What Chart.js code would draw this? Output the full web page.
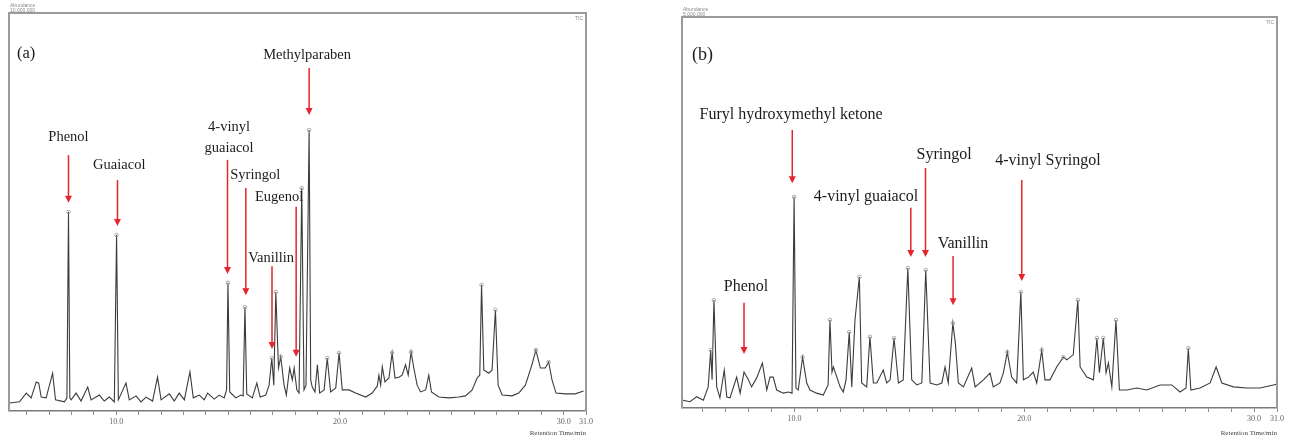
<!DOCTYPE html>
<html>
<head>
<meta charset="utf-8">
<script src="https://cdn.jsdelivr.net/npm/chart.js@4.4.1/dist/chart.umd.min.js"></script>
<style>
  body { margin: 0; background: #fff; width: 1292px; height: 437px; overflow: hidden; position: relative; }
  canvas { position: absolute; top: 0; }
</style>
</head>
<body>
<canvas id="chartA" width="605" height="437" style="left:0"></canvas>
<canvas id="chartB" width="622" height="437" style="left:670px"></canvas>
<script>
// retention time (min) and relative signal
const timeA = [5.22, 5.67, 5.97, 6.19, 6.42, 6.53, 6.64, 6.86, 7.15, 7.28,
  7.68, 7.79, 7.86, 7.92, 7.98, 8.20, 8.42, 8.72, 8.87, 9.24,
  9.46, 9.69, 9.91, 10.01, 10.09, 10.43, 10.58, 10.88, 11.10, 11.33,
  11.62, 11.84, 12.00, 12.37, 12.59, 12.81, 13.04, 13.29, 13.44, 13.71,
  13.93, 14.08, 14.38, 14.60, 14.82, 14.93, 14.99, 15.07, 15.34, 15.57,
  15.67, 15.75, 15.83, 16.08, 16.28, 16.43, 16.68, 16.83, 16.95, 17.04,
  17.13, 17.25, 17.35, 17.50, 17.60, 17.75, 17.87, 17.95, 18.07, 18.17,
  18.29, 18.39, 18.48, 18.62, 18.69, 18.76, 18.88, 18.99, 19.09, 19.29,
  19.43, 19.58, 19.81, 19.96, 20.10, 20.40, 20.70, 21.15, 21.44, 21.67,
  21.74, 21.82, 21.89, 22.01, 22.19, 22.33, 22.46, 22.63, 22.78, 22.93,
  23.05, 23.18, 23.30, 23.45, 23.60, 23.83, 23.97, 24.09, 24.42, 24.87,
  25.31, 25.61, 25.91, 26.13, 26.25, 26.33, 26.43, 26.65, 26.80, 26.95,
  27.07, 27.25, 27.69, 27.99, 28.29, 28.58, 28.76, 28.96, 29.18, 29.33,
  29.48, 29.66, 30.08, 30.52, 30.89];
const signalA = [2.0, 2.3, 4.5, 3.3, 7.3, 7.0, 3.5, 3.3, 9.5, 2.8,
  2.3, 3.3, 50.0, 3.3, 2.8, 4.5, 2.5, 6.0, 2.8, 4.0,
  2.5, 3.5, 2.3, 44.2, 2.8, 7.0, 2.8, 3.8, 2.3, 3.5,
  2.5, 8.5, 2.8, 4.3, 2.5, 4.5, 2.8, 9.8, 3.3, 4.0,
  2.8, 4.5, 3.0, 4.0, 3.3, 5.3, 32.2, 4.8, 3.3, 4.0,
  3.8, 26.1, 4.3, 3.3, 7.0, 3.5, 4.0, 6.5, 13.3, 6.5,
  29.9, 10.8, 13.6, 6.5, 4.0, 10.8, 7.8, 10.8, 5.3, 4.5,
  56.0, 5.3, 6.5, 70.6, 7.8, 6.0, 4.8, 11.6, 4.5, 5.3,
  13.3, 4.8, 5.8, 14.6, 5.3, 5.3, 4.5, 3.5, 4.5, 6.3,
  9.0, 6.5, 11.1, 7.3, 8.3, 14.6, 8.3, 8.5, 9.0, 11.6,
  9.0, 14.8, 10.8, 6.5, 4.8, 5.3, 9.0, 4.8, 3.5, 3.3,
  3.5, 3.8, 5.3, 8.3, 9.0, 31.7, 10.3, 9.5, 10.3, 25.4,
  6.5, 4.0, 3.8, 4.5, 6.5, 11.6, 15.3, 10.8, 10.8, 12.3,
  7.8, 4.5, 4.3, 4.3, 5.0];

const timeB = [5.14, 5.45, 5.74, 6.03, 6.24, 6.35, 6.41, 6.49, 6.61, 6.75,
  6.94, 7.05, 7.19, 7.48, 7.63, 7.80, 7.99, 8.13, 8.35, 8.60,
  8.79, 8.93, 9.07, 9.22, 9.51, 9.73, 9.89, 9.98, 10.06, 10.16,
  10.35, 10.53, 10.67, 10.96, 11.25, 11.46, 11.54, 11.63, 11.69, 11.84,
  11.98, 12.12, 12.24, 12.38, 12.49, 12.63, 12.82, 12.92, 13.14, 13.28,
  13.43, 13.58, 13.86, 14.01, 14.16, 14.33, 14.52, 14.73, 14.93, 15.10,
  15.32, 15.54, 15.71, 15.90, 16.19, 16.41, 16.55, 16.69, 16.89, 17.00,
  17.13, 17.35, 17.71, 17.86, 18.22, 18.51, 18.65, 18.94, 19.09, 19.26,
  19.45, 19.67, 19.85, 19.96, 20.18, 20.39, 20.54, 20.76, 20.90, 21.12,
  21.41, 21.70, 21.85, 22.13, 22.33, 22.43, 22.72, 23.01, 23.16, 23.27,
  23.44, 23.56, 23.66, 23.81, 23.99, 24.14, 24.46, 24.90, 25.33, 25.91,
  26.42, 26.78, 27.04, 27.14, 27.25, 27.65, 28.09, 28.35, 28.60, 29.10,
  29.68, 30.26, 30.84, 31.0];
const signalB = [2.0, 1.6, 2.9, 2.0, 5.4, 14.8, 7.2, 27.6, 5.4, 2.6,
  9.7, 2.8, 2.6, 7.9, 3.8, 9.2, 7.2, 5.4, 7.7, 11.5,
  4.6, 7.9, 7.9, 4.6, 3.8, 4.1, 3.8, 54.0, 5.1, 4.6,
  13.0, 6.4, 4.6, 3.8, 3.3, 5.9, 22.5, 9.2, 10.5, 7.9,
  5.4, 4.1, 7.2, 19.4, 5.4, 22.5, 33.5, 6.4, 5.4, 18.2,
  6.4, 6.4, 9.7, 6.4, 7.2, 17.9, 6.4, 7.2, 35.8, 7.2,
  5.9, 6.4, 35.3, 6.4, 5.9, 6.4, 10.5, 6.4, 21.7, 16.6,
  6.4, 5.4, 10.2, 5.4, 7.2, 8.9, 5.4, 6.4, 9.0, 14.3,
  7.9, 6.4, 29.7, 7.2, 7.9, 9.2, 6.4, 14.8, 7.2, 7.2,
  10.5, 13.0, 12.3, 13.6, 27.6, 10.5, 7.9, 7.2, 17.9, 9.0,
  17.9, 9.0, 11.5, 5.4, 22.5, 4.6, 4.6, 5.1, 4.6, 5.9,
  5.9, 4.1, 5.1, 15.3, 4.6, 5.1, 6.4, 10.5, 6.4, 5.4,
  5.1, 5.1, 5.9, 6.1];

const tickValues = [6, 7, 8, 9, 10, 11, 12, 13, 14, 15, 16, 17, 18, 19, 20,
  21, 22, 23, 24, 25, 26, 27, 28, 29, 30, 31];
const tickLabels = [10, 20, 30, 31];

// peak labels: text lines, text anchor (time, signal), arrow at time from signal a1 down to a2
const notesA = [
  { text: ["Phenol"], tx: 7.86, ty: 68.8, ax: 7.86, a1: 64.3, a2: 52.3 },
  { text: ["Guaiacol"], tx: 10.13, ty: 61.8, ax: 10.05, a1: 58.0, a2: 46.5 },
  { text: ["4-vinyl", "guaiacol"], tx: 15.04, ty: 71.4, ax: 14.97, a1: 63.1, a2: 34.4 },
  { text: ["Syringol"], tx: 16.21, ty: 59.3, ax: 15.79, a1: 56.0, a2: 29.1 },
  { text: ["Eugenol"], tx: 17.28, ty: 53.8, ax: 18.04, a1: 51.3, a2: 13.6 },
  { text: ["Vanillin"], tx: 16.92, ty: 38.4, ax: 16.96, a1: 36.4, a2: 15.6 },
  { text: ["Methylparaben"], tx: 18.53, ty: 89.4, ax: 18.62, a1: 86.2, a2: 74.4 }
];
const notesB = [
  { text: ["Furyl hydroxymethyl ketone"], tx: 9.85, ty: 74.9, ax: 9.9, a1: 71.1, a2: 57.5 },
  { text: ["4-vinyl guaiacol"], tx: 13.11, ty: 54.0, ax: 15.06, a1: 51.2, a2: 38.6 },
  { text: ["Syringol"], tx: 16.51, ty: 64.7, ax: 15.70, a1: 61.4, a2: 38.6 },
  { text: ["Vanillin"], tx: 17.33, ty: 41.9, ax: 16.90, a1: 38.9, a2: 26.3 },
  { text: ["4-vinyl Syringol"], tx: 21.03, ty: 63.2, ax: 19.89, a1: 58.3, a2: 32.5 },
  { text: ["Phenol"], tx: 7.89, ty: 30.9, ax: 7.80, a1: 26.9, a2: 13.8 }
];

const peakNotes = {
  id: "peakNotes",
  afterDatasetsDraw(chart, args, opts) {
    const { ctx, chartArea: area } = chart;
    const xs = chart.scales.x, ys = chart.scales.y;
    ctx.save();

    // frame: top, left and right sides
    ctx.strokeStyle = "#9a9a9a";
    ctx.lineWidth = 2;
    ctx.beginPath();
    ctx.moveTo(area.left, area.bottom);
    ctx.lineTo(area.left, area.top);
    ctx.lineTo(area.right, area.top);
    ctx.lineTo(area.right, area.bottom);
    ctx.stroke();

    // tiny instrument header text
    ctx.fillStyle = "#8a8a8a";
    ctx.font = "5px 'Liberation Sans'";
    ctx.textAlign = "left";
    ctx.textBaseline = "alphabetic";
    ctx.fillText("Abundance", area.left + 1, area.top - 6);
    ctx.fillText(opts.scaleText, area.left + 1, area.top - 1);
    ctx.textAlign = "right";
    ctx.fillText("TIC", area.right - 3, area.top + 7);

    // panel tag
    ctx.fillStyle = "#1c1c1c";
    ctx.font = opts.fontSize + 2 + "px 'Liberation Serif'";
    ctx.textAlign = "left";
    ctx.textBaseline = "middle";
    ctx.fillText(opts.tag, xs.getPixelForValue(opts.tagX), ys.getPixelForValue(opts.tagY));

    // labels and red arrows
    ctx.font = opts.fontSize + "px 'Liberation Serif'";
    ctx.textAlign = "center";
    for (const n of opts.notes) {
      const tx = xs.getPixelForValue(n.tx);
      const ty = ys.getPixelForValue(n.ty);
      ctx.fillStyle = "#1c1c1c";
      n.text.forEach((line, i) => ctx.fillText(line, tx, ty + i * 21));

      const ax = xs.getPixelForValue(n.ax);
      const y1 = ys.getPixelForValue(n.a1);
      const y2 = ys.getPixelForValue(n.a2);
      ctx.strokeStyle = "#e5242c";
      ctx.fillStyle = "#e5242c";
      ctx.lineWidth = 1.5;
      ctx.beginPath();
      ctx.moveTo(ax, y1);
      ctx.lineTo(ax, y2 - 6);
      ctx.stroke();
      ctx.beginPath();
      ctx.moveTo(ax - 3.5, y2 - 7);
      ctx.lineTo(ax + 3.5, y2 - 7);
      ctx.lineTo(ax, y2);
      ctx.closePath();
      ctx.fill();
    }
    ctx.restore();
  }
};

// small open circle on top of the larger peaks, like the integrator marks
function peakMark(signal) {
  return (c) => {
    const i = c.dataIndex, v = signal[i];
    const isTop = v > 12 && v > (signal[i - 1] ?? 0) && v > (signal[i + 1] ?? 0);
    return isTop ? 1.8 : 0;
  };
}

function makeChart(id, times, signal, cfg) {
  return new Chart(document.getElementById(id), {
    type: "line",
    data: {
      datasets: [{
        data: times.map((t, i) => ({ x: t, y: signal[i] })),
        borderColor: "#3c3c3c",
        borderWidth: 1.1,
        pointRadius: peakMark(signal),
        pointBorderColor: "#9a9a9a",
        pointBorderWidth: 0.8,
        pointBackgroundColor: "rgba(255,255,255,0)",
        tension: 0
      }]
    },
    options: {
      responsive: false,
      animation: false,
      layout: { padding: { left: cfg.padLeft, right: cfg.padRight, top: cfg.padTop, bottom: 0 } },
      plugins: {
        legend: { display: false },
        tooltip: { enabled: false },
        peakNotes: {
          notes: cfg.notes, tag: cfg.tag, tagX: cfg.tagX, tagY: cfg.tagY,
          scaleText: cfg.scaleText, fontSize: cfg.fontSize
        }
      },
      scales: {
        x: {
          type: "linear",
          min: cfg.min,
          max: 31,
          afterBuildTicks: (s) => { s.ticks = tickValues.map((v) => ({ value: v })); },
          afterFit: (s) => { s.height = cfg.axisHeight; },
          ticks: {
            autoSkip: false,
            maxRotation: 0,
            padding: 2,
            color: "#666",
            font: { family: "'Liberation Serif'", size: 8 },
            callback: (v) => (tickLabels.includes(v) ? v.toFixed(1) : "")
          },
          grid: { drawOnChartArea: false, drawTicks: true, tickLength: 4, color: "#8a8a8a" },
          border: { color: "#7a7a7a", width: 1.5 },
          title: {
            display: true,
            text: "Retention Time/min",
            align: "end",
            color: "#444",
            padding: 0,
            font: { family: "'Liberation Serif'", size: 7 }
          }
        },
        y: { display: false, min: 0, max: 100 }
      }
    },
    plugins: [peakNotes]
  });
}

makeChart("chartA", timeA, signalA, {
  min: 5.2, padLeft: 9, padRight: 19, padTop: 13, axisHeight: 26, fontSize: 14.5,
  notes: notesA, tag: "(a)", tagX: 5.56, tagY: 89.9, scaleText: "10,000,000"
});
makeChart("chartB", timeB, signalB, {
  min: 5.1, padLeft: 12, padRight: 15, padTop: 17, axisHeight: 29, fontSize: 16,
  notes: notesB, tag: "(b)", tagX: 5.54, tagY: 90.3, scaleText: "5,000,000"
});
</script>
</body>
</html>
